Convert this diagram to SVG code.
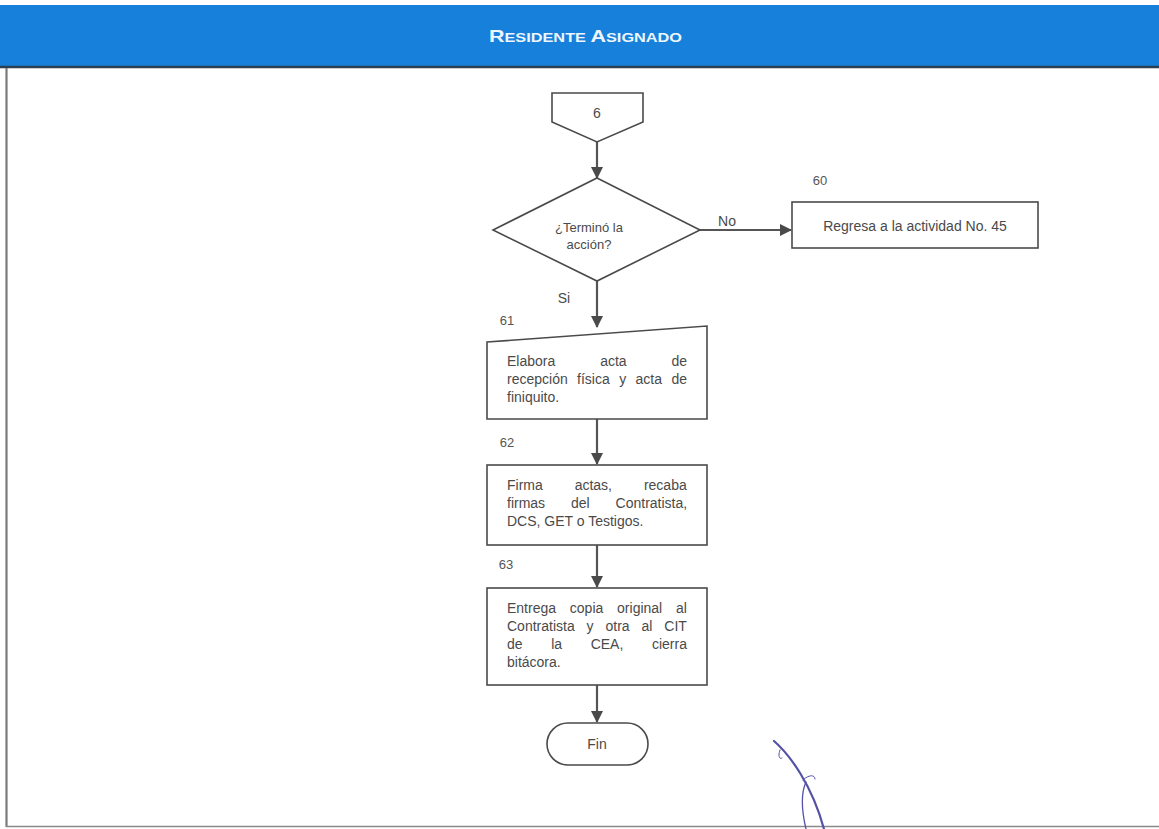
<svg xmlns="http://www.w3.org/2000/svg" width="1159" height="829" viewBox="0 0 1159 829">
  <defs>
    <marker id="arrow" viewBox="0 0 12 12" refX="11" refY="6" markerWidth="12" markerHeight="12" markerUnits="userSpaceOnUse" orient="auto">
      <path d="M0,0 L12,6 L0,12 Z" fill="#4a4a4a"/>
    </marker>
    <style>
      .shape { fill: #ffffff; stroke: #4a4a4a; stroke-width: 1.6; }
      .edge { fill: none; stroke: #555555; stroke-width: 2.2; marker-end: url(#arrow); }
      .txt { font-family: "Liberation Sans", Arial, sans-serif; font-size: 14px; fill: #4a4a4a; }
      .sm { font-size: 13px; }
      .num { font-family: "Liberation Sans", Arial, sans-serif; font-size: 13px; fill: #555555; }
      .mid { text-anchor: middle; }
      .title { font-family: "Liberation Sans", Arial, sans-serif; font-weight: bold; fill: #eef6ff; }
    </style>
  </defs>

  <!-- page background and frame -->
  <rect x="0" y="0" width="1159" height="829" fill="#ffffff"/>
  <rect x="0" y="5" width="1159" height="62" fill="#1680da"/>
  <line x1="0" y1="67" x2="1159" y2="67" stroke="#2c3e50" stroke-width="2.5"/>
  <line x1="6.5" y1="68" x2="6.5" y2="827" stroke="#7a7a7a" stroke-width="2.2"/>
  <line x1="6" y1="826.5" x2="1159" y2="826.5" stroke="#8a8a8a" stroke-width="1.6"/>

  <!-- lane title -->
  <text class="title" x="489" y="42" textLength="193" lengthAdjust="spacingAndGlyphs"><tspan font-size="16.5">R</tspan><tspan font-size="12.5">ESIDENTE </tspan><tspan font-size="16.5">A</tspan><tspan font-size="12.5">SIGNADO</tspan></text>

  <!-- connectors -->
  <g id="connectors">
    <line class="edge" x1="597" y1="142" x2="597" y2="178"/>
    <line class="edge" x1="700" y1="230" x2="791" y2="230"/>
    <line class="edge" x1="597" y1="281" x2="597" y2="327"/>
    <line class="edge" x1="597" y1="419" x2="597" y2="464"/>
    <line class="edge" x1="597" y1="545" x2="597" y2="587"/>
    <line class="edge" x1="597" y1="685" x2="597" y2="722"/>
    <text class="txt" x="727" y="226" text-anchor="middle">No</text>
    <text class="txt" x="564" y="303" text-anchor="middle">Si</text>
  </g>

  <!-- off-page connector 6 -->
  <g id="node-connector-6">
    <path class="shape" d="M552,93 L643,93 L643,122 L597,142 L552,122 Z"/>
    <text class="txt mid" x="597" y="118">6</text>
  </g>

  <!-- decision -->
  <g id="node-decision">
    <path class="shape" d="M597,178 L700,230 L597,281 L493,230 Z"/>
    <text class="txt sm mid" x="589" y="232">¿Terminó la</text>
    <text class="txt sm mid" x="589" y="249">acción?</text>
  </g>

  <!-- activity 60 -->
  <g id="node-60">
    <text class="num" x="820" y="185" text-anchor="middle">60</text>
    <rect class="shape" x="792" y="202" width="246" height="46"/>
    <text class="txt mid" x="915" y="231">Regresa a la actividad No. 45</text>
  </g>

  <!-- activity 61 (manual input); justified lines use word-spacing -->
  <g id="node-61">
    <text class="num" x="507" y="325" text-anchor="middle">61</text>
    <path class="shape" d="M487,342 L707,326 L707,419 L487,419 Z"/>
    <text class="txt" x="507" y="366" word-spacing="41">Elabora acta de</text>
    <text class="txt" x="507" y="384" word-spacing="5.5">recepción física y acta de</text>
    <text class="txt" x="507" y="402">finiquito.</text>
  </g>

  <!-- activity 62 -->
  <g id="node-62">
    <text class="num" x="507" y="447" text-anchor="middle">62</text>
    <rect class="shape" x="487" y="465" width="220" height="80"/>
    <text class="txt" x="507" y="490" word-spacing="28">Firma actas, recaba</text>
    <text class="txt" x="507" y="508" word-spacing="22">firmas del Contratista,</text>
    <text class="txt" x="507" y="526">DCS, GET o Testigos.</text>
  </g>

  <!-- activity 63 -->
  <g id="node-63">
    <text class="num" x="506" y="569" text-anchor="middle">63</text>
    <rect class="shape" x="487" y="588" width="220" height="97"/>
    <text class="txt" x="507" y="613" word-spacing="9.9">Entrega copia original al</text>
    <text class="txt" x="507" y="631" word-spacing="8">Contratista y otra al CIT</text>
    <text class="txt" x="507" y="649" word-spacing="24.7">de la CEA, cierra</text>
    <text class="txt" x="507" y="667">bitácora.</text>
  </g>

  <!-- terminator -->
  <g id="node-fin">
    <rect class="shape" x="547" y="723" width="101" height="42" rx="21" ry="21"/>
    <text class="txt mid" x="597" y="749">Fin</text>
  </g>

  <!-- handwritten initial in blue ink -->
  <g id="signature" fill="none" stroke="#5552a6" stroke-linecap="round">
    <path d="M774,741 C790,755 812,785 824,829" stroke-width="2.2"/>
    <path d="M806,782 C800,795 802,812 806,829" stroke-width="1.3"/>
    <path d="M803,780 C808,775 815,774 815,779" stroke-width="1"/>
    <path d="M780,750 C778,755 779,760 782,758" stroke-width="1"/>
  </g>
</svg>
